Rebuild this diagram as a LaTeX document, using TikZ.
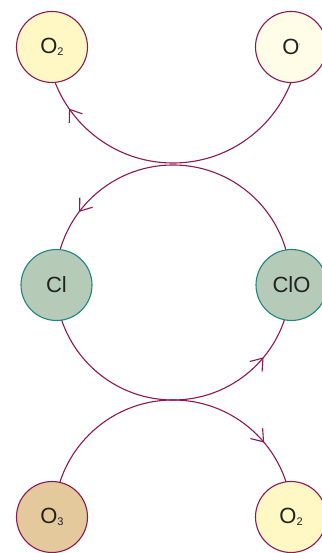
\documentclass[tikz,border=0pt]{standalone}
\usepackage{fontspec}
\setmainfont{Liberation Sans}
\usetikzlibrary{arrows.meta,decorations.markings}
\definecolor{conn}{HTML}{8C1755}
\definecolor{tealb}{HTML}{1F8580}
\definecolor{txt}{HTML}{222222}
\definecolor{fOtwo}{HTML}{FFF8C4}
\definecolor{fO}{HTML}{FFFDE8}
\definecolor{fCl}{HTML}{B5CBB8}
\definecolor{fOthree}{HTML}{E3C99C}
\newcommand\chemsub[1]{\raisebox{-2.5pt}{\fontsize{11}{11}\selectfont #1}}
\begin{document}
\begin{tikzpicture}[x=1pt,y=1pt,
  chem/.style={circle,minimum size=71pt,inner sep=0pt,line width=1.1pt,
    font=\fontsize{22}{26}\selectfont,text=txt},
  purpnode/.style={chem,draw=conn},
  clnode/.style={chem,draw=tealb,fill=fCl},
  link/.style={color=conn,line width=1.1pt},
  markat/.style={postaction={decorate},decoration={markings,
    mark=at position #1 with {\arrow{Straight Barb[length=11pt,width=16pt]}}}}
]
\useasboundingbox (0,0) rectangle (321,553);
% centres of the arcs
\coordinate (ctop) at (173,516.5);
\coordinate (cmid) at (173,270.5);
\coordinate (cbot) at (173,34.1);
% connectors (drawn first, nodes cover the ends)
\draw[link,markat=0.807] (ctop) ++(0:126.5) arc[start angle=360,end angle=180,radius=126.5];
\draw[link,postaction={decorate},decoration={markings,
    mark=at position 0.3975 with {\arrow{Straight Barb[length=11pt,width=16pt]}},
    mark=at position 0.890 with {\arrow{Straight Barb[length=11pt,width=16pt]}}}]
  (cmid) ++(0:117.5) arc[start angle=0,end angle=360,radius=117.5];
\draw[link,markat=0.778] (cbot) ++(180:118.9) arc[start angle=180,end angle=0,radius=118.9];
% nodes
\node[purpnode,fill=fOtwo] (O2a) at (52,506) {O\chemsub{2}};
\node[purpnode,fill=fO] (Oa) at (291,506) {O\rlap{\kern-1.2pt\raisebox{8pt}{\fontsize{7}{7}\selectfont ·}}};
\node[clnode] (Cl) at (56.5,268) {Cl};
\node[clnode] (ClO) at (291.5,268) {ClO};
\node[purpnode,fill=fOthree] (O3) at (52,36) {O\chemsub{3}};
\node[purpnode,fill=fOtwo] (O2b) at (291,36) {O\chemsub{2}};
\end{tikzpicture}
\end{document}
